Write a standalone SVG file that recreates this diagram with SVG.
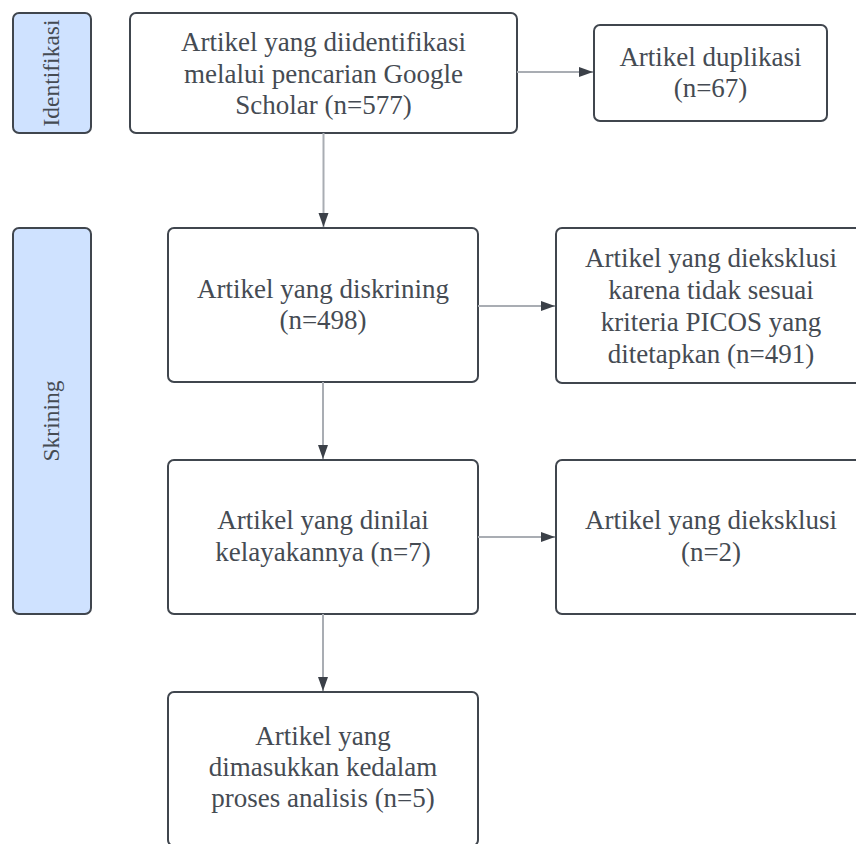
<svg xmlns="http://www.w3.org/2000/svg" width="856" height="844" viewBox="0 0 856 844">
  <style>
    .box { fill: #ffffff; stroke: #40464e; stroke-width: 2; }
    .lane { fill: #cfe2ff; stroke: #40464e; stroke-width: 2; }
    .t { font-family: "Liberation Serif", "Times New Roman", serif; font-size: 27px; fill: #454b53; text-anchor: middle; }
    .lt { font-family: "Liberation Serif", "Times New Roman", serif; font-size: 23.5px; fill: #454b53; text-anchor: middle; }
    .edge { fill: none; stroke: #a9adb3; stroke-width: 2; }
  </style>
  <defs>
    <marker id="arrow" markerUnits="userSpaceOnUse" markerWidth="15" markerHeight="11" refX="14" refY="5" orient="auto">
      <path d="M0,0 L14,5 L0,10 z" fill="#3b4048"/>
    </marker>
  </defs>
  <rect width="856" height="844" fill="#ffffff"/>

  <g id="lane-identifikasi">
    <rect class="lane" x="13" y="13" width="78" height="120" rx="6"/>
    <text class="lt" transform="translate(59,73) rotate(-90)">Identifikasi</text>
  </g>
  <g id="lane-skrining">
    <rect class="lane" x="13" y="228" width="78" height="386" rx="6"/>
    <text class="lt" transform="translate(59,421) rotate(-90)">Skrining</text>
  </g>

  <g id="n-identified">
    <rect class="box" x="130" y="13" width="387" height="120" rx="6"/>
    <text class="t" x="323.5" y="51">Artikel yang diidentifikasi</text>
    <text class="t" x="323.5" y="83">melalui pencarian Google</text>
    <text class="t" x="323.5" y="114">Scholar (n=577)</text>
  </g>
  <g id="n-duplicate">
    <rect class="box" x="594" y="25" width="233" height="96" rx="6"/>
    <text class="t" x="710.5" y="66">Artikel duplikasi</text>
    <text class="t" x="710.5" y="97">(n=67)</text>
  </g>
  <g id="n-screened">
    <rect class="box" x="168" y="228" width="310" height="154" rx="6"/>
    <text class="t" x="323" y="298">Artikel yang diskrining</text>
    <text class="t" x="323" y="329">(n=498)</text>
  </g>
  <g id="n-excluded-picos">
    <rect class="box" x="556" y="228" width="310" height="155" rx="6"/>
    <text class="t" x="711" y="267">Artikel yang dieksklusi</text>
    <text class="t" x="711" y="299">karena tidak sesuai</text>
    <text class="t" x="711" y="331">kriteria PICOS yang</text>
    <text class="t" x="711" y="363">ditetapkan (n=491)</text>
  </g>
  <g id="n-eligibility">
    <rect class="box" x="168" y="460" width="310" height="154" rx="6"/>
    <text class="t" x="323" y="529">Artikel yang dinilai</text>
    <text class="t" x="323" y="561">kelayakannya (n=7)</text>
  </g>
  <g id="n-excluded">
    <rect class="box" x="556" y="460" width="310" height="154" rx="6"/>
    <text class="t" x="711" y="529">Artikel yang dieksklusi</text>
    <text class="t" x="711" y="561">(n=2)</text>
  </g>
  <g id="n-included">
    <rect class="box" x="168" y="692" width="310" height="154" rx="6"/>
    <text class="t" x="323" y="745">Artikel yang</text>
    <text class="t" x="323" y="776">dimasukkan kedalam</text>
    <text class="t" x="323" y="807">proses analisis (n=5)</text>
  </g>

  <g id="connectors">
    <line class="edge" x1="517" y1="72" x2="593" y2="72" marker-end="url(#arrow)"/>
    <line class="edge" x1="323.5" y1="133" x2="323.5" y2="227" marker-end="url(#arrow)"/>
    <line class="edge" x1="478" y1="306" x2="555" y2="306" marker-end="url(#arrow)"/>
    <line class="edge" x1="323" y1="382" x2="323" y2="459" marker-end="url(#arrow)"/>
    <line class="edge" x1="478" y1="537" x2="555" y2="537" marker-end="url(#arrow)"/>
    <line class="edge" x1="323" y1="614" x2="323" y2="691" marker-end="url(#arrow)"/>
  </g>
</svg>
